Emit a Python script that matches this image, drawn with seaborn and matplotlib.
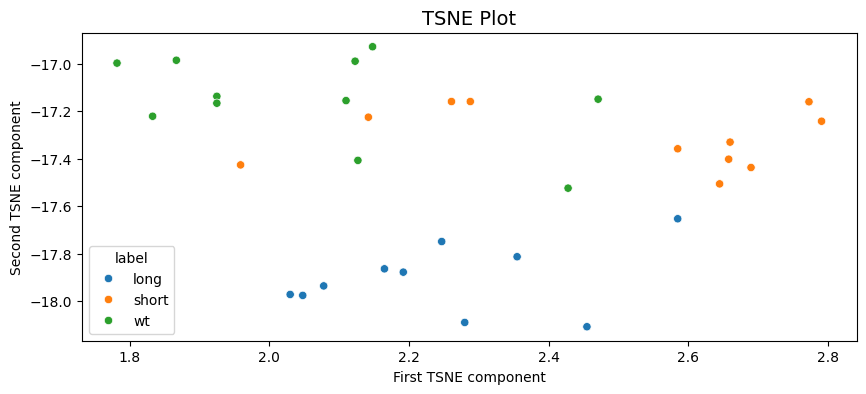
import matplotlib
matplotlib.use("Agg")
import matplotlib.pyplot as plt
import seaborn as sns
import pandas as pd

# t-SNE coordinates
long_x = [2.030, 2.048, 2.078, 2.165, 2.192, 2.247, 2.280, 2.355, 2.455, 2.585]
long_y = [-17.972, -17.976, -17.936, -17.864, -17.878, -17.749, -18.090, -17.813, -18.108, -17.653]

short_x = [1.959, 2.142, 2.261, 2.288, 2.585, 2.645, 2.658, 2.660, 2.690, 2.773, 2.791]
short_y = [-17.426, -17.225, -17.159, -17.159, -17.358, -17.506, -17.402, -17.330, -17.437, -17.160, -17.242]

wt_x = [1.782, 1.867, 1.925, 1.925, 1.833, 2.148, 2.123, 2.110, 2.127, 2.428, 2.471]
wt_y = [-16.997, -16.985, -17.137, -17.166, -17.221, -16.928, -16.989, -17.155, -17.407, -17.524, -17.149]

labels = ["long", "short", "wt"]

df = pd.DataFrame({
    "x": long_x + short_x + wt_x,
    "y": long_y + short_y + wt_y,
    "label": ["long"] * len(long_x) + ["short"] * len(short_x) + ["wt"] * len(wt_x),
})

fig, ax = plt.subplots(figsize=(10, 4))
sns.scatterplot(data=df, x="x", y="y", hue="label", hue_order=labels, ax=ax)
ax.set_title("TSNE Plot", fontsize=14)
ax.set_xlabel("First TSNE component")
ax.set_ylabel("Second TSNE component")
ax.legend(title="label", loc="lower left")
fig.savefig("out.png", bbox_inches="tight")
